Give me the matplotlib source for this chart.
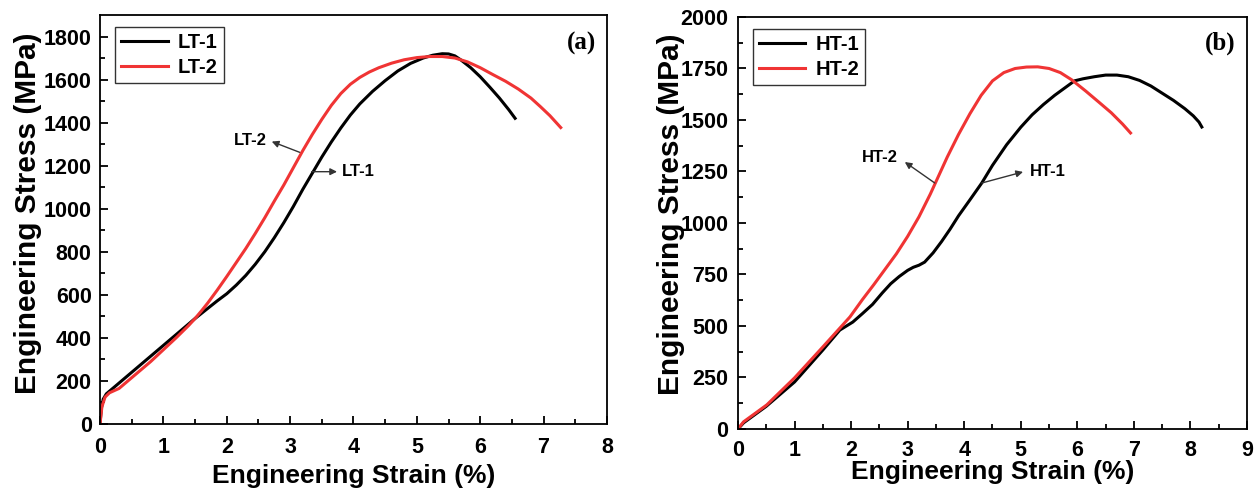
import numpy as np
import matplotlib.pyplot as plt

plt.rcParams['font.family'] = ['Liberation Sans', 'DejaVu Sans']
plt.rcParams['font.weight'] = 'bold'

# (a) LT specimens: strain (%) vs stress (MPa)
lt1_strain = [0, 0.02, 0.05, 0.1, 0.2, 0.4, 0.7, 1.0, 1.3, 1.5, 1.7, 1.85, 2.0, 2.15,
              2.3, 2.45, 2.6, 2.75, 2.9, 3.05, 3.2, 3.35, 3.5, 3.65, 3.8, 3.95, 4.1,
              4.3, 4.5, 4.7, 4.9, 5.1, 5.25, 5.4, 5.5, 5.6, 5.7, 5.85, 6.0, 6.15,
              6.3, 6.45, 6.55]
lt1_stress = [0, 70, 115, 140, 165, 215, 290, 365, 440, 490, 537, 572, 605, 645,
              690, 742, 800, 865, 935, 1010, 1090, 1165, 1240, 1310, 1375, 1435, 1487,
              1545, 1595, 1640, 1675, 1700, 1713, 1720, 1719, 1710, 1690, 1655, 1613, 1565,
              1515, 1460, 1420]
lt2_strain = [0, 0.03, 0.08, 0.15, 0.3, 0.5, 0.8, 1.0, 1.2, 1.4, 1.5, 1.6, 1.7,
              1.85, 2.0, 2.15, 2.3, 2.45, 2.6, 2.75, 2.9, 3.05, 3.2, 3.35, 3.5,
              3.65, 3.8, 3.95, 4.1, 4.25, 4.4, 4.6, 4.8, 5.0, 5.2, 5.4, 5.6, 5.8,
              6.0, 6.2, 6.4, 6.6, 6.8, 6.95, 7.1, 7.27]
lt2_stress = [0, 80, 125, 145, 165, 215, 290, 345, 400, 458, 490, 525, 562,
              622, 685, 750, 815, 885, 958, 1035, 1110, 1190, 1270, 1345, 1415,
              1480, 1535, 1578, 1610, 1635, 1655, 1676, 1692, 1702, 1707, 1707, 1700, 1682,
              1655, 1623, 1592, 1556, 1514, 1474, 1432, 1377]

# (b) HT specimens
ht1_strain = [0, 0.1, 0.5, 1.0, 1.5, 1.8, 2.03, 2.2, 2.38, 2.55, 2.7, 2.85, 3.0,
              3.1, 3.2, 3.3, 3.45, 3.6, 3.75, 3.9, 4.1, 4.31, 4.5, 4.75, 5.0, 5.2,
              5.4, 5.6, 5.8, 5.95, 6.1, 6.3, 6.5, 6.7, 6.9, 7.1, 7.3, 7.5, 7.7,
              7.9, 8.05, 8.15, 8.2]
ht1_stress = [0, 30, 110, 228, 383, 480, 519, 560, 605, 660, 705, 740, 770,
              785, 795, 810, 855, 910, 970, 1035, 1112, 1194, 1280, 1380, 1465, 1525,
              1575, 1620, 1660, 1690, 1700, 1710, 1718, 1718, 1710, 1692, 1665, 1630, 1595,
              1555, 1520, 1490, 1466]
ht2_strain = [0, 0.1, 0.51, 1.0, 1.5, 1.98, 2.2, 2.4, 2.6, 2.8, 3.0, 3.2, 3.4,
              3.5, 3.7, 3.9, 4.1, 4.3, 4.5, 4.7, 4.9, 5.1, 5.3, 5.5, 5.7, 5.9,
              6.15, 6.4, 6.6, 6.8, 6.94]
ht2_stress = [0, 35, 117, 248, 398, 544, 628, 700, 775, 850, 935, 1030, 1140,
              1200, 1320, 1430, 1530, 1620, 1690, 1730, 1750, 1757, 1758, 1750, 1730, 1695,
              1640, 1582, 1535, 1480, 1437]

red = '#f03434'
arrow_kw = dict(arrowstyle='-|>', color='#333333', lw=1, shrinkA=0, shrinkB=0,
                mutation_scale=10)

fig = plt.figure(figsize=(12.58, 4.91), dpi=100)
ax1 = fig.add_axes([0.0795, 0.1365, 0.403, 0.833])
ax2 = fig.add_axes([0.5866, 0.1263, 0.4047, 0.8391])


def style(ax, xmax, ymax, ystep, xpad, ypad):
    ax.set_xlim(0, xmax)
    ax.set_ylim(0, ymax)
    ax.set_xticks(np.arange(0, xmax + 1, 1))
    ax.set_xticks(np.arange(0, xmax, 0.5), minor=True)
    ax.set_yticks(np.arange(0, ymax, ystep / 2), minor=True)
    ax.tick_params(which='both', direction='in', top=False, right=False,
                   labelsize=15.5, width=1.3)
    ax.tick_params(which='major', length=6)
    ax.tick_params(which='minor', length=3.5)
    ax.tick_params(axis='x', pad=xpad)
    ax.tick_params(axis='y', pad=ypad)
    for s in ax.spines.values():
        s.set_linewidth(1.3)
    ax.set_xlabel('Engineering Strain (%)', fontsize=19, fontweight='bold')
    ax.set_ylabel('Engineering Stress (MPa)', fontsize=21.5, fontweight='bold')


ax1.plot(lt1_strain, lt1_stress, color='black', lw=2.2, label='LT-1')
ax1.plot(lt2_strain, lt2_stress, color=red, lw=2.2, label='LT-2')
style(ax1, 8, 1900, 200, 9.5, 6)
ax1.set_yticks(np.arange(0, 1801, 200))
ax1.xaxis.set_label_coords(0.5, -0.097)
ax1.yaxis.set_label_coords(-0.114, 0.515)
ax1.legend(loc='upper left', fontsize=14.5, frameon=True, fancybox=False,
           edgecolor='black', handlelength=2.3, borderpad=0.3, borderaxespad=0,
           labelspacing=0.3, handletextpad=0.5, bbox_to_anchor=(0.03, 0.97))
ax1.text(0.949, 0.931, '(a)', transform=ax1.transAxes, ha='center', va='center',
         fontsize=18, fontweight='bold', family='Liberation Serif')
ax1.annotate('', xy=(2.71, 1312), xytext=(3.15, 1262), arrowprops=arrow_kw)
ax1.text(2.37, 1316, 'LT-2', fontsize=12, fontweight='bold', ha='center', va='center')
ax1.annotate('', xy=(3.74, 1172), xytext=(3.34, 1172), arrowprops=arrow_kw)
ax1.text(3.82, 1172, 'LT-1', fontsize=12, fontweight='bold', va='center')

ax2.plot(ht1_strain, ht1_stress, color='black', lw=2.2, label='HT-1')
ax2.plot(ht2_strain, ht2_stress, color=red, lw=2.2, label='HT-2')
style(ax2, 9, 2000, 250, 8, 7)
ax2.set_yticks(np.arange(0, 2001, 250))
ax2.xaxis.set_label_coords(0.5, -0.075)
ax2.yaxis.set_label_coords(-0.104, 0.52)
ax2.legend(loc='upper left', fontsize=14.5, frameon=True, fancybox=False,
           edgecolor='black', handlelength=2.3, borderpad=0.3, borderaxespad=0,
           labelspacing=0.3, handletextpad=0.5, bbox_to_anchor=(0.029, 0.971))
ax2.text(0.947, 0.937, '(b)', transform=ax2.transAxes, ha='center', va='center',
         fontsize=18, fontweight='bold', family='Liberation Serif')
ax2.annotate('', xy=(2.95, 1296), xytext=(3.48, 1194), arrowprops=arrow_kw)
ax2.text(2.51, 1320, 'HT-2', fontsize=12, fontweight='bold', ha='center', va='center')
ax2.annotate('', xy=(5.04, 1248), xytext=(4.31, 1194), arrowprops=arrow_kw)
ax2.text(5.16, 1248, 'HT-1', fontsize=12, fontweight='bold', va='center')

fig.savefig('out.png', dpi=100)
